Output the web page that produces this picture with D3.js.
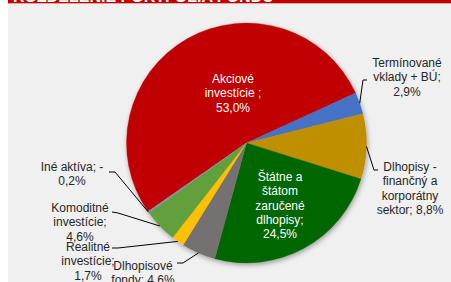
<!DOCTYPE html>
<html>
<head>
<meta charset="utf-8">
<script src="https://cdn.jsdelivr.net/npm/d3@7"></script>
<style>
  body { margin: 0; background: #fff; }
  text { font-family: "Liberation Sans", Arial, sans-serif; }
</style>
</head>
<body>
<div id="chart"></div>
<script>
var categories = ["Akciové investície", "Termínované vklady + BÚ", "Dlhopisy - finančný a korporátny sektor",
    "Štátne a štátom zaručené dlhopisy", "Dlhopisové fondy", "Realitné investície",
    "Komoditné investície", "Iné aktíva"];
var values = [53.0, 2.9, 8.8, 24.5, 4.6, 1.7, 4.6, 0.2];
var labelLines = [
    ["Akciové", "investície ;", "53,0%"],
    ["Termínované", "vklady + BÚ;", "2,9%"],
    ["Dlhopisy -", "finančný a", "korporátny", "sektor; 8,8%"],
    ["Štátne a", "štátom", "zaručené", "dlhopisy;", "24,5%"],
    ["Dlhopisové", "fondy; 4,6%"],
    ["Realitné", "investície;", "1,7%"],
    ["Komoditné", "investície;", "4,6%"],
    ["Iné aktíva; -", "0,2%"]
];
var colors = ["#c00000", "#4472c4", "#bf8f00", "#006600", "#767171", "#ffc000", "#629f3e", "#7e94b8"];

var width = 451, height = 282;
var cx = 246.5, cy = 143, radius = 120;

// label layout: centre x, centre y of first line, inside?, leader elbow and end
var labelAt = [
    {x: 233, y: 79, inside: true},
    {x: 407, y: 63, elbow: [363, 80], end: [367, 80]},
    {x: 410, y: 167, elbow: [374, 170], end: [378, 170]},
    {x: 280, y: 177, inside: true},
    {x: 143, y: 266, elbow: [183, 263], end: [177, 263]},
    {x: 88, y: 247, elbow: [118, 248], end: [112, 248]},
    {x: 80, y: 208, elbow: [118, 213], end: [112, 212]},
    {x: 72, y: 167, elbow: [115, 172], end: [109, 172]}
];

var svg = d3.select("#chart").append("svg")
    .attr("width", width)
    .attr("height", height);

var defs = svg.append("defs");
var shadow = defs.append("filter").attr("id", "shadow")
    .attr("x", "-20%").attr("y", "-20%").attr("width", "140%").attr("height", "140%");
shadow.append("feDropShadow")
    .attr("dx", 1).attr("dy", 2).attr("stdDeviation", 2.5)
    .attr("flood-color", "#000").attr("flood-opacity", 0.35);

svg.append("rect")
    .attr("x", 8).attr("y", 0)
    .attr("width", width - 8).attr("height", height)
    .attr("fill", "#f0f0f0");

// title banner, mostly cut off
svg.append("rect")
    .attr("x", 8).attr("y", -20)
    .attr("width", width - 8).attr("height", 23.3)
    .attr("fill", "#c00000");
svg.append("text")
    .attr("x", 13).attr("y", 2.4)
    .attr("fill", "#fff")
    .attr("font-size", 16)
    .attr("font-weight", "bold")
    .text("ROZDELENIE PORTFÓLIA FONDU");

var startDeg = -124.8;
var pie = d3.pie()
    .sort(null)
    .value(function(d) { return d; })
    .startAngle(startDeg * Math.PI / 180)
    .endAngle(startDeg * Math.PI / 180 + 2 * Math.PI);

var arcs = pie(values);

var arc = d3.arc().innerRadius(0).outerRadius(radius);

var g = svg.append("g")
    .attr("transform", "translate(" + cx + "," + cy + ")");

g.append("g")
    .attr("filter", "url(#shadow)")
    .selectAll("path")
    .data(arcs)
    .enter().append("path")
    .attr("d", arc)
    .attr("fill", function(d, i) { return colors[i]; })
    .attr("stroke", function(d, i) { return colors[i]; })
    .attr("stroke-width", 0.3);

// leader lines from slice edge
arcs.forEach(function(d, i) {
    var l = labelAt[i];
    if (l.inside) return;
    var mid = (d.startAngle + d.endAngle) / 2;
    var p0 = [cx + radius * Math.sin(mid), cy - radius * Math.cos(mid)];
    svg.append("polyline")
        .attr("points", [p0, l.elbow, l.end].map(function(p) { return p.join(","); }).join(" "))
        .attr("fill", "none")
        .attr("stroke", "#000")
        .attr("stroke-width", 1);
});

labelLines.forEach(function(lines, i) {
    var l = labelAt[i];
    var t = svg.append("text")
        .attr("text-anchor", "middle")
        .attr("font-size", 12)
        .attr("fill", l.inside ? "#fff" : "#262626");
    lines.forEach(function(s, k) {
        t.append("tspan")
            .attr("x", l.x)
            .attr("y", l.y + k * 14.2)
            .attr("dy", "0.35em")
            .text(s);
    });
});
</script>
</body>
</html>
